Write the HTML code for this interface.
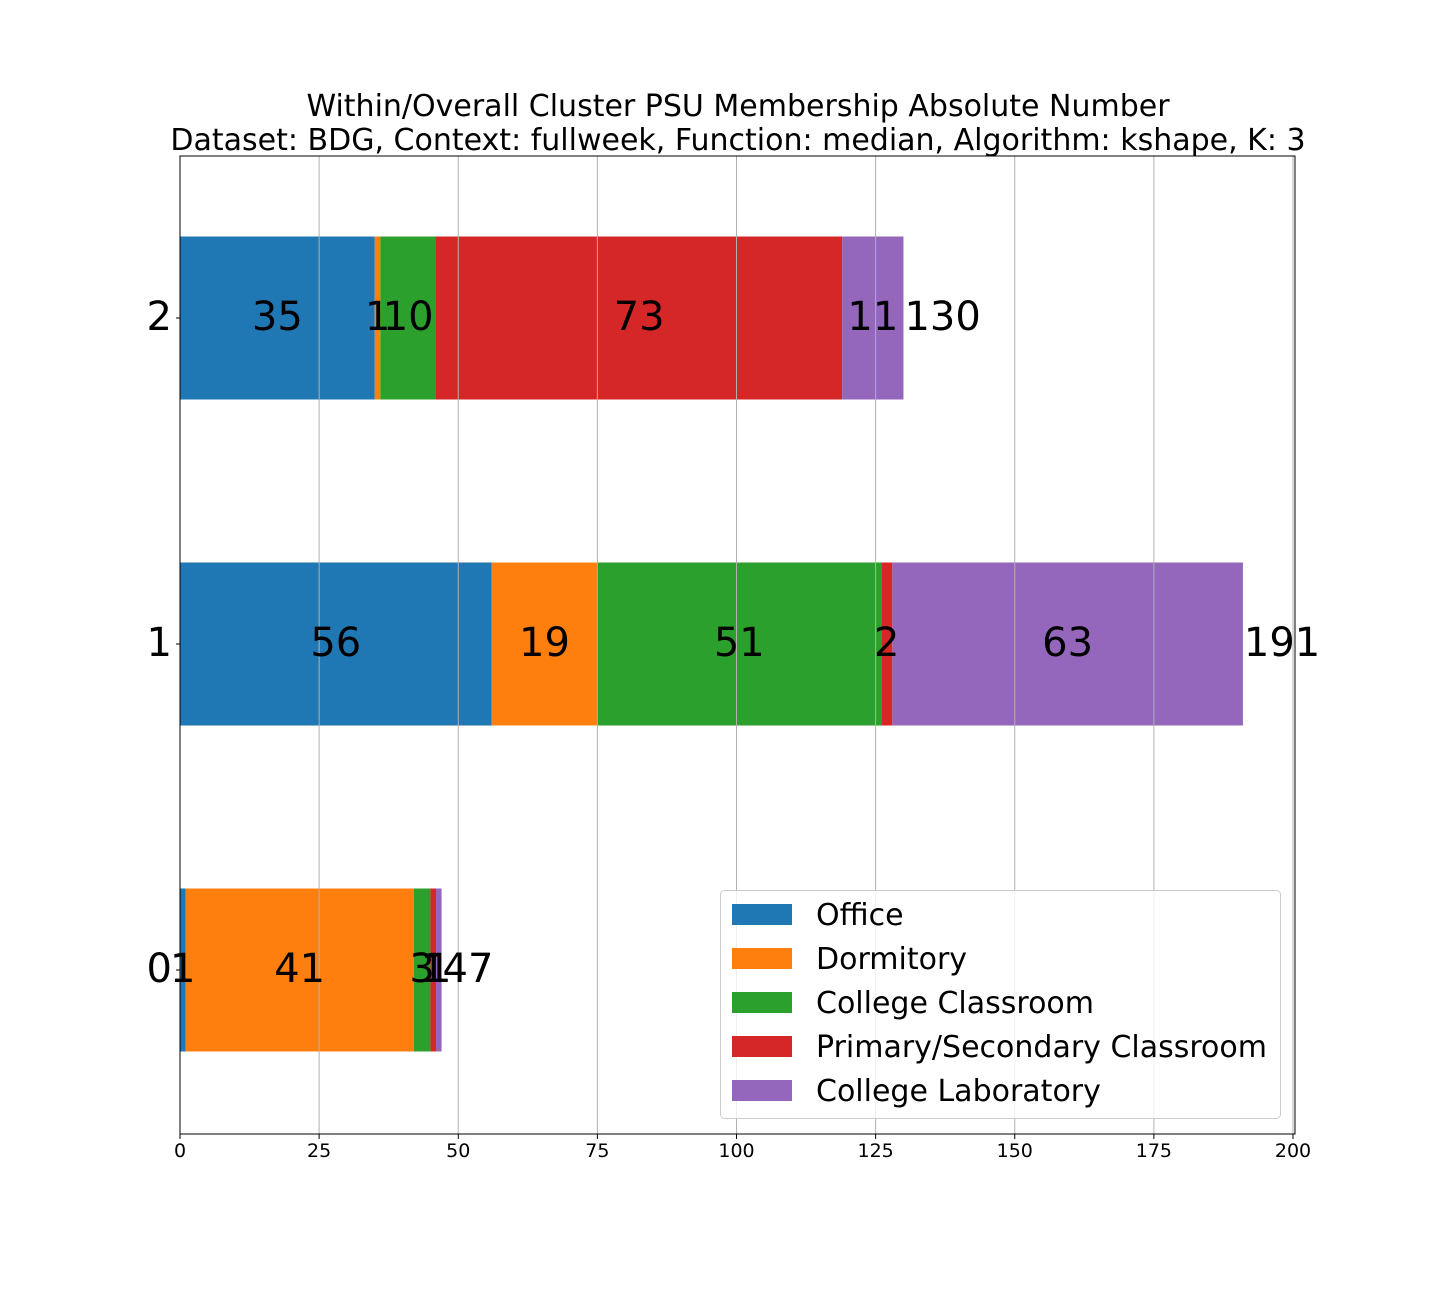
<!DOCTYPE html>
<html><head><meta charset="utf-8"><style>
html,body{margin:0;padding:0;background:#fff;}
svg text{font-family:"DejaVu Sans","Liberation Sans",sans-serif;}
</style></head><body>
<svg id="chart" width="1440" height="1296" xmlns="http://www.w3.org/2000/svg">
<text x="738" y="116" font-size="30" text-anchor="middle">Within/Overall Cluster PSU Membership Absolute Number</text>
<text x="738" y="150" font-size="30" text-anchor="middle">Dataset: BDG, Context: fullweek, Function: median, Algorithm: kshape, K: 3</text>
<g id="bars"></g><g id="grid"></g><g id="labels"></g><g id="axes"></g><g id="legend"></g>
</svg>
<script>
const clusters = ['0','1','2'];
const seriesNames = ['Office','Dormitory','College Classroom','Primary/Secondary Classroom','College Laboratory'];
const office = [1,56,35];
const dormitory = [41,19,1];
const collegeClassroom = [3,51,10];
const primaryClassroom = [1,2,73];
const collegeLab = [1,63,11];
const xTicks = [0,25,50,75,100,125,150,175,200];
const colors = ['#1f77b4','#ff7f0e','#2ca02c','#d62728','#9467bd'];
const series = [office,dormitory,collegeClassroom,primaryClassroom,collegeLab];
const NS='http://www.w3.org/2000/svg';
const L=180,R=1295,T=156,B=1134;
const x=v=>L+v*(1293-L)/200;
const y=i=>970-i*326;
const bh=163;
function mk(tag,attrs,parent){const e=document.createElementNS(NS,tag);for(const k in attrs)e.setAttribute(k,attrs[k]);parent.appendChild(e);return e;}
const gb=document.getElementById('bars'),gg=document.getElementById('grid'),gl=document.getElementById('labels'),ga=document.getElementById('axes'),gleg=document.getElementById('legend');
clusters.forEach((c,i)=>{
  let acc=0;
  series.forEach((s,j)=>{
    const v=s[i];
    const r=mk('rect',{x:x(acc),y:y(i)-bh/2,width:x(acc+v)-x(acc),height:bh,fill:colors[j]},gb);
    
    
    const t=mk('text',{x:x(acc+v/2),y:y(i)+12,'font-size':40,'text-anchor':'middle'},gl);
    t.textContent=v;
    
    
    acc+=v;
  });
  const t=mk('text',{x:x(acc)+1,y:y(i)+12,'font-size':40},gl);
  t.textContent=acc;
  
  
  const yt=mk('text',{x:172,y:y(i)+12,'font-size':40,'text-anchor':'end'},ga);
  yt.textContent=c;
  
  
  mk('line',{x1:176,x2:180,y1:y(i),y2:y(i),stroke:'#000'},ga);
});
xTicks.forEach(v=>{
  const g=mk('line',{x1:x(v),x2:x(v),y1:T,y2:B,stroke:'#b0b0b0','stroke-width':1},gg);
  
  
  mk('line',{x1:x(v),x2:x(v),y1:B,y2:B+5,stroke:'#000'},ga);
  const t=mk('text',{x:x(v),y:B+23,'font-size':19,'text-anchor':'middle'},ga);
  t.textContent=v;
  
  
});
const fr=mk('rect',{x:L,y:T,width:R-L,height:B-T,fill:'none',stroke:'#000','stroke-width':1},ga);


const lb=mk('rect',{x:720.5,y:890.5,width:560,height:228,rx:4,fill:'#fff','fill-opacity':0.8,stroke:'#ccc'},gleg);


seriesNames.forEach((n,j)=>{
  const cy=915+j*44;
  const p=mk('rect',{x:732,y:cy-11,width:60,height:21,fill:colors[j]},gleg);
  
  
  const t=mk('text',{x:816,y:cy+10,'font-size':30},gleg);
  t.textContent=n;
  
  
});
</script>
</body></html>
